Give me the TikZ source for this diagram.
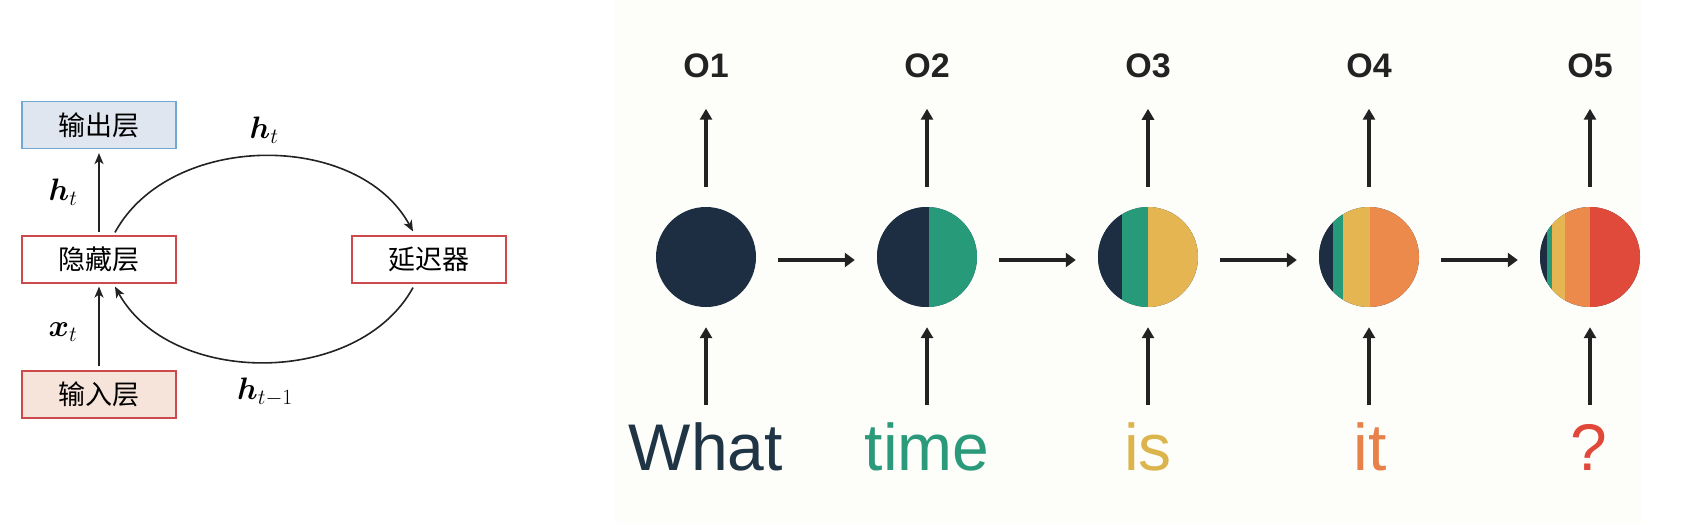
\RequirePackage{fix-cm}
\documentclass[tikz,border=0pt]{standalone}
\usepackage{fontspec}
\usepackage{bm}
\setmainfont{Liberation Sans}
\newfontfamily\cjk{Noto Sans CJK SC}
\usetikzlibrary{arrows.meta}
\definecolor{cnavy}{HTML}{1D2D42}
\definecolor{cgreen}{HTML}{279B79}
\definecolor{cyellow}{HTML}{E5B552}
\definecolor{corange}{HTML}{EC8A4C}
\definecolor{cred}{HTML}{E04A3B}
\definecolor{wnavy}{HTML}{1F3444}
\definecolor{wgreen}{HTML}{2A9A7A}
\definecolor{wyellow}{HTML}{DBB44C}
\definecolor{worange}{HTML}{E8804A}
\definecolor{wred}{HTML}{E0483A}
\definecolor{panelbg}{HTML}{FDFDFA}
\definecolor{bluebd}{HTML}{6FA8D2}
\definecolor{bluefill}{HTML}{DFE6EF}
\definecolor{redbd}{HTML}{CC4A4C}
\definecolor{pinkfill}{HTML}{F6E3DA}
\definecolor{arrowcol}{HTML}{222222}
\newcommand\cstripe[3]{\fill[#1] ([xshift=#2pt]path picture bounding box.south) rectangle ([xshift=#3pt]path picture bounding box.north);}
\tikzset{
  layerbox/.style={draw, line width=1.2pt, minimum width=154pt, minimum height=47pt, inner sep=0pt, font=\cjk\fontsize{27}{27}\selectfont},
  larrow/.style={line width=1.6pt, draw=arrowcol, -{Stealth[length=11pt,width=9pt,inset=3pt]}},
  lab/.style={inner sep=0pt, font=\fontsize{31}{31}\selectfont},
  rnn/.style={circle, minimum size=100pt, inner sep=0pt, fill=cnavy},
  harrow/.style={line width=4pt, draw=arrowcol, -{Triangle[length=10pt,width=14pt]}},
  varrow/.style={line width=3.3pt, draw=arrowcol, -{Triangle[length=11pt,width=12pt]}},
  olab/.style={inner sep=0pt, font=\bfseries\fontsize{34}{34}\selectfont, text=arrowcol},
  word/.style={inner sep=0pt, anchor=base, font=\fontsize{66}{66}\selectfont}
}
\begin{document}
\begin{tikzpicture}[x=1pt,y=-1pt]
\useasboundingbox (0,0) rectangle (1682,523);
\fill[panelbg] (615,0) rectangle (1641,523);
% left diagram
\node[layerbox, draw=bluebd, fill=bluefill] (out) at (99,125) {输出层};
\node[layerbox, draw=redbd, fill=white] (hid) at (99,259.5) {隐藏层};
\node[layerbox, draw=redbd, fill=white] (del) at (429,259.5) {延迟器};
\node[layerbox, draw=redbd, fill=pinkfill] (inp) at (99,394.5) {输入层};
\draw[larrow, shorten <=3pt, shorten >=4pt] (hid.north) -- (out.south);
\draw[larrow, shorten <=4pt, shorten >=3pt] (inp.north) -- (hid.south);
\draw[larrow] ([xshift=16pt,yshift=3pt]hid.north) .. controls +(55,-101) and +(-55,-101) .. ([xshift=-16pt,yshift=4pt]del.north);
\draw[larrow] ([xshift=-16pt,yshift=-4pt]del.south) .. controls +(-55,100) and +(55,100) .. ([xshift=16pt,yshift=-3pt]hid.south);
\node[lab] (l1) at (63,192) {$\bm{h}_t$};
\node[lab] (l2) at (63,332) {$\bm{x}_t$};
\node[lab] (l3) at (264,130) {$\bm{h}_t$};
\node[lab] (l4) at (265,392) {$\bm{h}_{t-1}$};
% right diagram
\node[rnn] (c1) at (706,257) {};
\node[rnn, path picture={\cstripe{cnavy}{-60}{2}\cstripe{cgreen}{2}{60}}] (c2) at (927,257) {};
\node[rnn, path picture={\cstripe{cnavy}{-60}{-26}\cstripe{cgreen}{-26}{0}\cstripe{cyellow}{0}{60}}] (c3) at (1148,257) {};
\node[rnn, path picture={\cstripe{cnavy}{-60}{-36}\cstripe{cgreen}{-36}{-26}\cstripe{cyellow}{-26}{1}\cstripe{corange}{1}{60}}] (c4) at (1369,257) {};
\node[rnn, path picture={\cstripe{cnavy}{-60}{-43}\cstripe{cgreen}{-43}{-38}\cstripe{cyellow}{-38}{-25}\cstripe{corange}{-25}{0}\cstripe{cred}{0}{60}}] (c5) at (1590,257) {};
\foreach \i/\j in {1/2,2/3,3/4,4/5}{
  \draw[harrow] ([xshift=22pt,yshift=-3pt]c\i.east) -- ([xshift=-22pt,yshift=-3pt]c\j.west);
}
\foreach \i in {1,...,5}{
  \node[olab] (o\i) at ([yshift=191.5pt]c\i.center) {O\i};
  \draw[varrow, shorten >=31pt] ([yshift=20pt]c\i.north) -- (o\i.south);
  \draw[varrow] ([yshift=-98pt]c\i.south) -- ([yshift=-20pt]c\i.south);
}
\node[word, text=wnavy] (w1) at (706,470) {What};
\node[word, text=wgreen] (w2) at (927,470) {time};
\node[word, text=wyellow] (w3) at (1148,470) {is};
\node[word, text=worange] (w4) at (1370,470) {it};
\node[word, text=wred] (w5) at (1589,470) {?};
\end{tikzpicture}
\end{document}
